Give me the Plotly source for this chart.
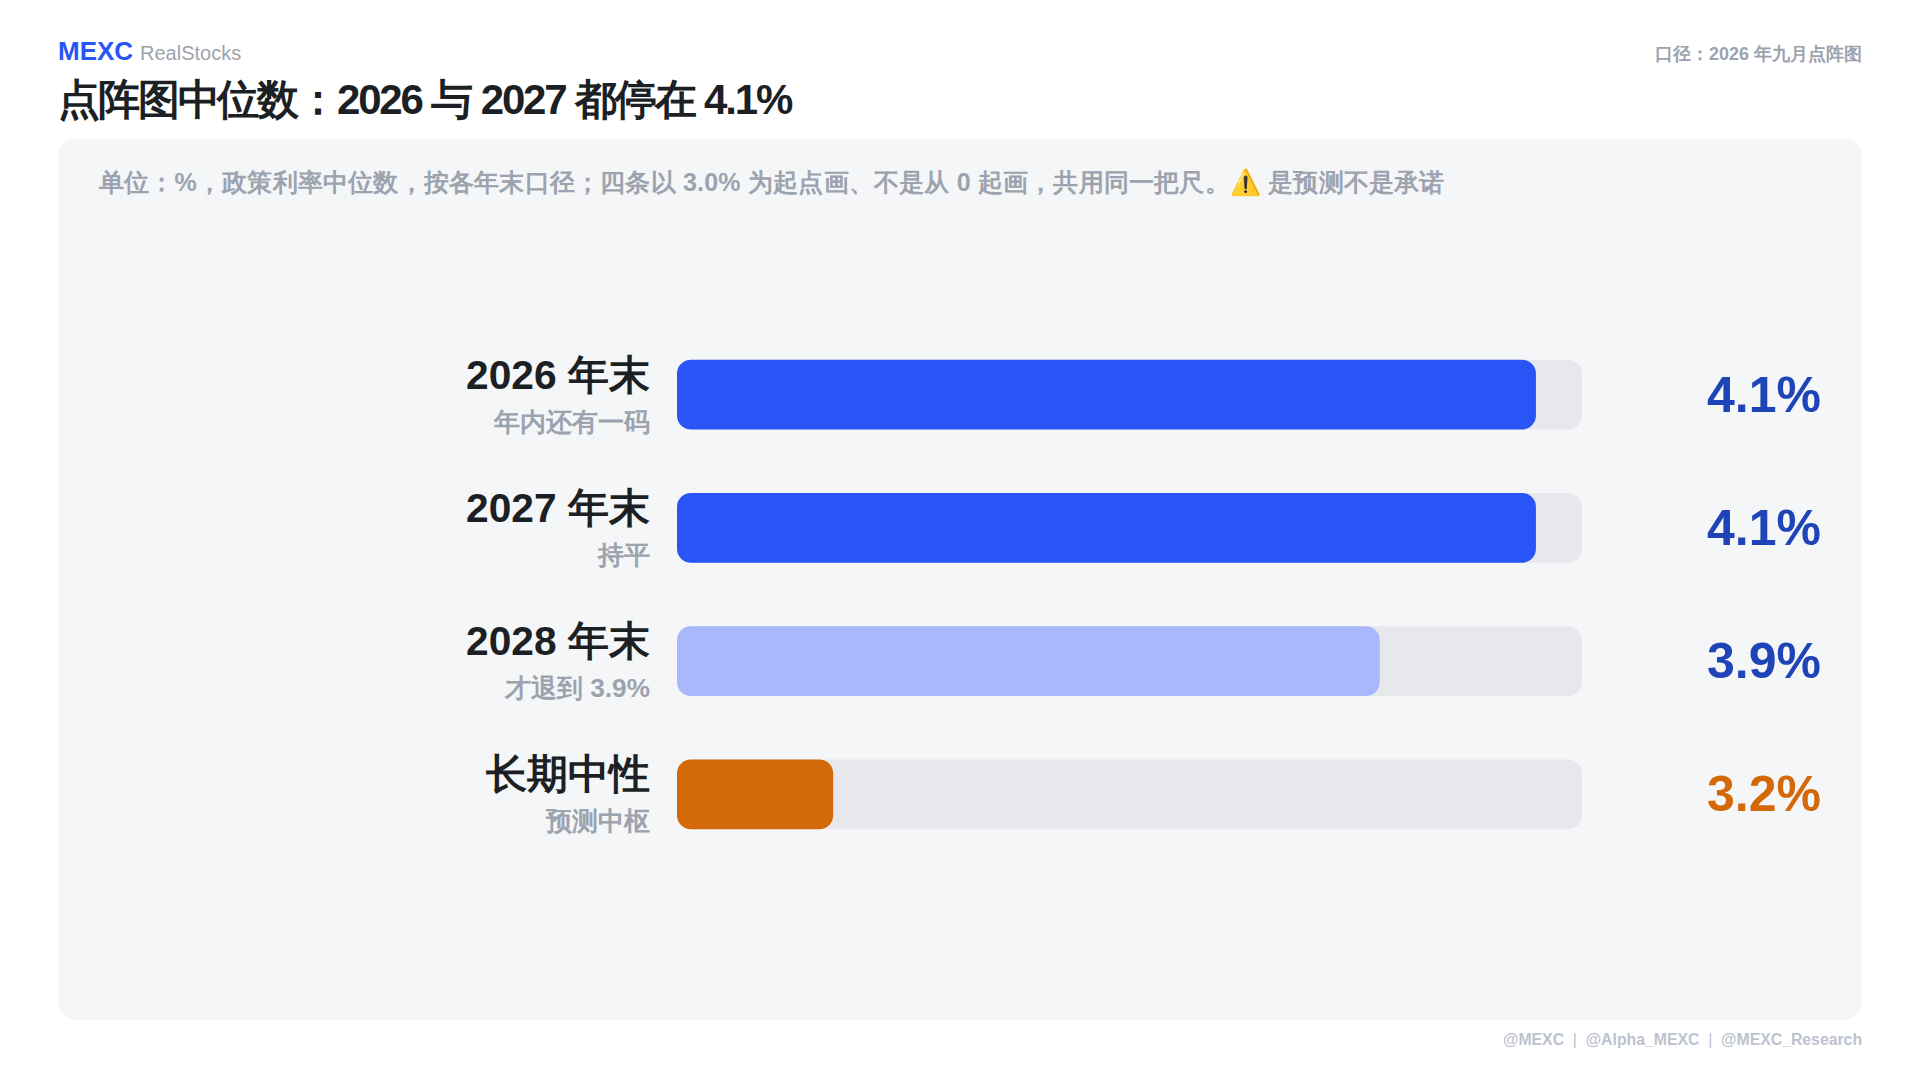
import plotly.graph_objects as go

FONT = "Helvetica, Arial, sans-serif"

categories = ["2026 年末", "2027 年末", "2028 年末", "长期中性"]
notes = ["年内还有一码", "持平", "才退到 3.9%", "预测中枢"]
values = [4.1, 4.1, 3.9, 3.2]
value_labels = ["4.1%", "4.1%", "3.9%", "3.2%"]
bar_colors = ["#2954f6", "#2954f6", "#a8b8fb", "#d4690a"]
value_colors = ["#1f44b8", "#1f44b8", "#1f44b8", "#d4690a"]
AXIS_START = 3.0
AXIS_END = 4.159
TRACK = "#e6e8ec"
CARD = "#f4f6f8"
W, H = 1920, 1080


def px(x):
    return x / W


def py(y):
    return 1 - y / H


fig = go.Figure()
n = len(categories)
fig.add_bar(y=categories, x=[AXIS_END - AXIS_START] * n, base=[AXIS_START] * n, orientation="h",
            width=0.525, marker=dict(color=TRACK, line_width=0), hoverinfo="skip", name="track")
fig.add_bar(y=categories, x=[v - AXIS_START for v in values], base=[AXIS_START] * n, orientation="h",
            width=0.525, marker=dict(color=bar_colors, line_width=0), hoverinfo="skip", name="value")

ann = []


def text(t, x, y, size, color, anchor="left", bold=True, yref="paper", yshift=0):
    ann.append(dict(text=t, x=x, y=y, xref="paper", yref=yref, xanchor=anchor, yanchor="middle",
                    align=anchor, showarrow=False, yshift=yshift, borderpad=0, borderwidth=0,
                    font=dict(family=FONT, size=size, color=color, weight=700 if bold else 400)))


text("MEXC", px(58), py(51), 26, "#2954f6")
text("RealStocks", px(139.5), py(53), 20, "#9ca3af", bold=False)
text("点阵图中位数\uff1a2026 与 2027 都停在 4.1%", px(58), py(99), 42, "#1c1f23")
text("口径\uff1a2026 年九月点阵图", px(1862), py(54), 18, "#9ca3af", anchor="right")
text("单位\uff1a%\uff0c政策利率中位数\uff0c按各年末口径\uff1b四条以 3.0% 为起点画、不是从 0 起画\uff0c共用同一把尺。⚠️ 是预测不是承诺",
     px(98), py(182), 25, "#9ca3af")
text("@MEXC\u00a0\u00a0<span style='font-weight:400'>|</span>\u00a0\u00a0@Alpha_MEXC\u00a0\u00a0"
     "<span style='font-weight:400'>|</span>\u00a0\u00a0@MEXC_Research",
     px(1862), py(1039), 15.8, "#bcc3ce", anchor="right")

for cat, note, lab, col in zip(categories, notes, value_labels, value_colors):
    text(cat, px(650), cat, 40.7, "#1c1f23", anchor="right", yref="y", yshift=20)
    text(note, px(650), cat, 26.2, "#9ca3af", anchor="right", yref="y", yshift=-27)
    text(lab, px(1821), cat, 50, col, anchor="right", yref="y")

r = 20
x0, x1, y0, y1 = px(58), px(1862), py(1020), py(139)
rx, ry = r / W, r / H
card_path = (f"M {x0+rx} {y0} L {x1-rx} {y0} Q {x1} {y0} {x1} {y0+ry} L {x1} {y1-ry} Q {x1} {y1} {x1-rx} {y1} "
             f"L {x0+rx} {y1} Q {x0} {y1} {x0} {y1-ry} L {x0} {y0+ry} Q {x0} {y0} {x0+rx} {y0} Z")

fig.update_layout(
    width=W, height=H, autosize=False,
    margin=dict(l=0, r=0, t=0, b=0),
    paper_bgcolor="white", plot_bgcolor="rgba(0,0,0,0)",
    barmode="overlay", barcornerradius=14, showlegend=False,
    font=dict(family=FONT),
    annotations=ann,
    shapes=[dict(type="path", path=card_path, xref="paper", yref="paper", fillcolor=CARD,
                 line_width=0, layer="below")],
    xaxis=dict(domain=[px(677), px(1582)], range=[AXIS_START, AXIS_END], visible=False, fixedrange=True),
    yaxis=dict(domain=[py(861), py(328)], type="category", categoryorder="array", categoryarray=categories,
               range=[3.5, -0.5], visible=False, fixedrange=True),
)

post = """
document.body.style.margin='0';
document.querySelectorAll('.annotation-text').forEach(function(t){
  var s = t.textContent;
  if (s.indexOf('点阵图中位数') === 0) { t.style.letterSpacing = '-2.15px'; }
  if (s.indexOf('单位') === 0) { t.style.letterSpacing = '0.2px'; }
});
"""
fig.write_html("out.html", config={"displayModeBar": False}, post_script=post)
